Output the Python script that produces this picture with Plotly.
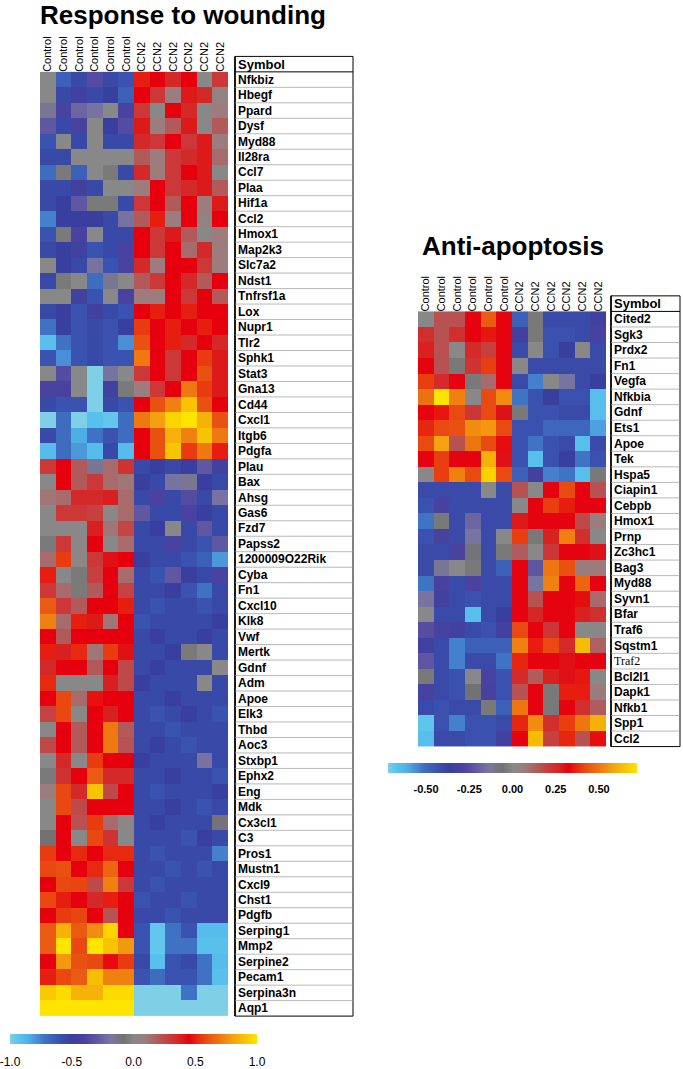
import plotly.graph_objects as go

W, H = 683, 1069

# ---------------- data ----------------
columns = ["Control"] * 6 + ["CCN2"] * 6

wound_genes = [
    "Nfkbiz", "Hbegf", "Ppard", "Dysf", "Myd88", "Il28ra", "Ccl7", "Plaa", "Hif1a", "Ccl2",
    "Hmox1", "Map2k3", "Slc7a2", "Ndst1", "Tnfrsf1a", "Lox", "Nupr1", "Tlr2", "Sphk1", "Stat3",
    "Gna13", "Cd44", "Cxcl1", "Itgb6", "Pdgfa", "Plau", "Bax", "Ahsg", "Gas6", "Fzd7",
    "Papss2", "1200009O22Rik", "Cyba", "Fn1", "Cxcl10", "Klk8", "Vwf", "Mertk", "Gdnf", "Adm",
    "Apoe", "Elk3", "Thbd", "Aoc3", "Stxbp1", "Ephx2", "Eng", "Mdk", "Cx3cl1", "C3",
    "Pros1", "Mustn1", "Cxcl9", "Chst1", "Pdgfb", "Serping1", "Mmp2", "Serpine2", "Pecam1",
    "Serpina3n", "Aqp1",
]

wound_values = [
    [0.00, -0.65, -0.55, -0.35, -0.55, -0.60, 0.50, 0.45, 0.35, 0.45, 0.00, 0.30],
    [0.00, -0.55, -0.45, -0.55, -0.50, -0.65, 0.45, 0.30, 0.10, 0.40, 0.35, 0.05],
    [-0.15, -0.40, -0.25, -0.20, 0.00, -0.40, 0.30, 0.00, 0.45, 0.35, 0.00, 0.10],
    [-0.30, -0.55, -0.40, 0.00, -0.50, -0.35, 0.40, 0.10, 0.20, 0.40, 0.00, 0.20],
    [-0.60, 0.00, -0.55, 0.00, -0.55, -0.55, 0.35, 0.30, 0.45, 0.30, 0.40, 0.10],
    [-0.55, -0.55, 0.00, 0.00, 0.00, 0.00, 0.20, 0.10, 0.30, 0.35, 0.40, 0.15],
    [-0.70, -0.05, -0.65, 0.00, -0.05, -0.55, 0.35, 0.10, 0.30, 0.45, 0.40, 0.00],
    [-0.55, -0.55, -0.45, -0.55, 0.00, 0.00, 0.10, 0.45, 0.30, 0.35, 0.40, 0.20],
    [-0.55, -0.50, -0.30, -0.05, -0.05, -0.55, 0.30, 0.45, 0.20, 0.45, 0.10, 0.40],
    [-0.75, -0.50, -0.50, -0.50, -0.55, -0.20, 0.20, 0.50, 0.10, 0.45, 0.05, 0.45],
    [-0.60, -0.05, -0.40, 0.00, -0.55, -0.55, 0.45, 0.30, 0.40, 0.20, 0.00, 0.10],
    [-0.55, -0.50, -0.45, -0.60, -0.55, -0.40, 0.45, 0.30, 0.45, 0.15, 0.35, 0.10],
    [0.00, -0.50, -0.55, -0.20, -0.60, -0.40, 0.35, 0.10, 0.45, 0.45, 0.30, 0.10],
    [-0.55, -0.05, 0.00, -0.70, -0.15, 0.00, 0.20, 0.30, 0.45, 0.35, 0.20, 0.45],
    [0.00, 0.00, -0.45, -0.60, 0.00, -0.40, 0.10, 0.10, 0.45, 0.30, 0.45, 0.20],
    [-0.55, -0.50, -0.60, -0.45, -0.55, -0.60, 0.45, 0.50, 0.45, 0.50, 0.45, 0.45],
    [-0.72, -0.50, -0.60, -0.55, -0.60, -0.50, 0.55, 0.45, 0.50, 0.45, 0.50, 0.45],
    [-0.92, -0.72, -0.60, -0.55, -0.60, -0.78, 0.60, 0.45, 0.50, 0.35, 0.45, 0.35],
    [-0.60, -0.78, -0.60, -0.55, -0.60, -0.60, 0.70, 0.45, 0.30, 0.45, 0.55, 0.40],
    [0.00, -0.35, 0.00, -1.00, -0.20, 0.00, 0.30, 0.45, 0.30, 0.45, 0.60, 0.40],
    [-0.40, -0.40, 0.00, -1.00, -0.45, -0.05, 0.10, 0.30, 0.45, 0.70, 0.55, 0.40],
    [-0.55, -0.60, -0.60, -1.00, -0.55, -0.60, 0.45, 0.60, 0.72, 0.90, 0.60, 0.45],
    [-1.00, -0.70, -1.00, -0.92, -0.95, -0.70, 0.70, 0.80, 0.95, 1.00, 0.85, 0.60],
    [-0.55, -0.70, -0.85, -0.72, -0.60, -0.70, 0.45, 0.60, 0.85, 0.72, 0.90, 0.70],
    [-0.90, -0.70, -0.80, -0.90, -0.55, -0.90, 0.45, 0.60, 0.90, 0.55, 0.70, 0.50],
    [0.30, 0.45, 0.20, -0.15, 0.15, 0.32, -0.55, -0.50, -0.55, -0.50, -0.30, -0.45],
    [0.00, 0.45, 0.20, 0.30, 0.15, 0.12, -0.50, -0.55, -0.20, -0.15, -0.50, -0.55],
    [0.12, 0.15, 0.35, 0.35, 0.38, 0.15, -0.55, -0.40, -0.55, -0.35, -0.55, -0.20],
    [0.00, 0.30, 0.30, 0.28, 0.02, 0.15, -0.30, -0.55, -0.55, -0.40, -0.50, -0.55],
    [0.00, 0.00, 0.00, 0.38, 0.12, 0.26, -0.55, -0.50, 0.00, -0.55, -0.30, -0.55],
    [-0.05, 0.30, 0.02, 0.45, 0.00, 0.15, -0.55, -0.55, -0.40, -0.55, -0.60, -0.30],
    [0.15, 0.55, 0.02, 0.30, 0.42, 0.45, -0.50, -0.55, -0.55, -0.60, -0.65, -0.80],
    [0.50, 0.00, -0.05, 0.28, 0.45, 0.15, -0.55, -0.60, -0.30, -0.50, -0.55, -0.40],
    [0.30, 0.15, -0.05, 0.20, 0.45, 0.27, -0.55, -0.55, -0.50, -0.60, -0.72, -0.55],
    [0.62, 0.30, 0.20, 0.45, 0.45, 0.50, -0.55, -0.60, -0.55, -0.55, -0.60, -0.55],
    [0.72, 0.15, 0.50, 0.40, 0.12, 0.45, -0.60, -0.55, -0.55, -0.55, -0.55, -0.50],
    [0.45, 0.20, 0.45, 0.45, 0.45, 0.45, -0.55, -0.50, -0.55, -0.55, -0.50, -0.55],
    [0.50, 0.38, 0.52, 0.12, 0.55, 0.42, -0.55, -0.55, -0.50, -0.05, 0.00, -0.55],
    [0.35, 0.45, 0.45, 0.20, 0.45, 0.25, -0.55, -0.50, -0.55, -0.55, -0.55, 0.00],
    [0.52, 0.00, 0.00, 0.00, 0.38, 0.25, -0.50, -0.55, -0.55, -0.55, 0.00, -0.55],
    [0.45, 0.58, 0.15, 0.48, 0.45, 0.45, -0.55, -0.55, -0.50, -0.55, -0.55, -0.55],
    [0.27, 0.58, 0.00, 0.45, 0.38, 0.45, -0.55, -0.60, -0.55, -0.50, -0.55, -0.60],
    [0.00, 0.45, 0.20, 0.45, 0.70, 0.20, -0.55, -0.55, -0.60, -0.55, -0.55, -0.55],
    [0.25, 0.45, 0.20, 0.45, 0.70, 0.22, -0.55, -0.50, -0.55, -0.60, -0.55, -0.55],
    [0.00, 0.35, 0.00, 0.55, 0.45, 0.45, -0.50, -0.55, -0.55, -0.55, -0.20, -0.55],
    [-0.05, 0.32, 0.45, 0.62, 0.35, 0.35, -0.55, -0.55, -0.50, -0.55, -0.55, -0.60],
    [0.10, 0.58, 0.35, 0.90, 0.25, 0.45, -0.55, -0.60, -0.55, -0.55, -0.55, -0.50],
    [0.00, 0.58, 0.25, 0.45, 0.45, 0.45, -0.55, -0.55, -0.50, -0.55, -0.60, -0.55],
    [0.00, 0.45, 0.23, 0.55, 0.15, 0.02, -0.55, -0.50, -0.55, -0.55, -0.55, -0.10],
    [-0.08, 0.45, 0.00, 0.58, 0.32, 0.00, -0.55, -0.55, -0.55, -0.60, -0.50, -0.55],
    [0.55, 0.45, 0.52, 0.45, 0.52, 0.52, -0.55, -0.60, -0.55, -0.55, -0.55, -0.75],
    [0.58, 0.60, 0.45, 0.52, 0.65, 0.45, -0.55, -0.55, -0.60, -0.55, -0.60, -0.55],
    [0.45, 0.58, 0.57, 0.25, 0.72, 0.30, -0.55, -0.60, -0.55, -0.55, -0.55, -0.55],
    [0.58, 0.50, 0.45, 0.35, 0.50, 0.45, -0.60, -0.55, -0.55, -0.60, -0.55, -0.55],
    [0.45, 0.55, 0.57, 0.45, 0.22, 0.45, -0.55, -0.55, -0.60, -0.55, -0.55, -0.55],
    [0.62, 0.85, 0.62, 0.75, 0.95, 0.45, -0.60, -0.95, -0.72, -0.60, -0.90, -0.90],
    [0.62, 1.00, 0.58, 1.00, 0.90, 0.78, -0.60, -0.95, -0.72, -0.72, -0.92, -0.92],
    [0.45, 0.78, 0.60, 0.58, 0.47, 0.55, -0.55, -0.92, -0.60, -0.55, -0.72, -0.90],
    [0.50, 0.58, 0.62, 0.88, 0.72, 0.72, -0.60, -0.70, -0.60, -0.60, -0.72, -0.92],
    [0.92, 0.97, 0.85, 0.85, 0.97, 0.97, -1.00, -1.00, -1.00, -0.72, -1.00, -1.00],
    [1.00, 1.00, 1.00, 1.00, 1.00, 1.00, -1.00, -1.00, -1.00, -1.00, -1.00, -1.00],
]

apop_genes = [
    "Cited2", "Sgk3", "Prdx2", "Fn1", "Vegfa", "Nfkbia", "Gdnf", "Ets1", "Apoe", "Tek",
    "Hspa5", "Ciapin1", "Cebpb", "Hmox1", "Prnp", "Zc3hc1", "Bag3", "Myd88", "Syvn1", "Bfar",
    "Traf6", "Sqstm1", "Traf2", "Bcl2l1", "Dapk1", "Nfkb1", "Spp1", "Ccl2",
]

apop_values = [
    [0.00, 0.16, 0.16, 0.32, 0.45, 0.32, -0.47, -0.04, -0.40, -0.40, -0.40, -0.32],
    [0.24, 0.16, 0.24, 0.32, 0.35, 0.32, -0.32, -0.04, -0.43, -0.43, -0.40, -0.30],
    [0.27, 0.16, 0.00, 0.25, 0.20, 0.32, -0.40, 0.00, -0.43, -0.36, 0.00, -0.40],
    [0.32, 0.16, -0.04, 0.23, 0.40, 0.32, 0.00, -0.40, -0.40, -0.40, -0.40, -0.40],
    [0.40, 0.25, 0.32, -0.04, 0.11, 0.32, -0.40, -0.54, 0.00, -0.14, -0.40, -0.36],
    [0.49, 0.72, 0.52, 0.00, 0.42, 0.54, -0.52, -0.43, -0.36, -0.43, -0.43, -0.66],
    [0.32, 0.35, 0.42, 0.22, 0.42, 0.30, -0.04, -0.43, -0.43, -0.40, -0.40, -0.66],
    [0.37, 0.42, 0.43, 0.54, 0.56, 0.42, -0.43, -0.43, -0.49, -0.49, -0.49, -0.59],
    [0.42, 0.58, 0.16, 0.50, 0.42, 0.34, -0.43, -0.52, -0.43, -0.40, -0.66, -0.40],
    [0.32, 0.40, 0.32, 0.32, 0.61, 0.30, -0.43, -0.66, -0.43, -0.36, -0.52, -0.43],
    [0.00, 0.40, 0.52, 0.42, 0.68, 0.42, -0.47, -0.32, -0.54, -0.52, -0.66, -0.04],
    [-0.40, -0.40, -0.40, -0.40, 0.00, -0.40, 0.16, 0.00, 0.32, 0.42, 0.32, 0.16],
    [-0.43, -0.30, -0.40, -0.40, -0.40, -0.40, 0.00, 0.32, 0.40, 0.36, 0.32, 0.32],
    [-0.52, -0.04, -0.40, -0.18, -0.40, -0.40, 0.29, 0.32, 0.32, 0.32, 0.18, 0.06],
    [-0.43, -0.30, -0.40, -0.14, -0.40, 0.00, 0.40, -0.04, 0.27, 0.52, 0.24, 0.00],
    [-0.40, -0.40, -0.29, -0.07, -0.40, -0.04, 0.14, 0.00, 0.22, 0.32, 0.32, 0.30],
    [-0.40, -0.11, 0.00, -0.04, -0.40, -0.47, 0.32, -0.22, 0.50, 0.43, 0.07, 0.07],
    [-0.52, -0.30, -0.40, -0.29, -0.40, -0.40, 0.32, -0.14, 0.52, 0.32, 0.47, 0.32],
    [-0.14, -0.32, -0.40, -0.43, -0.40, -0.40, 0.32, 0.16, 0.32, 0.32, 0.34, 0.11],
    [0.00, -0.40, -0.40, -0.66, -0.40, -0.36, 0.32, 0.26, 0.32, 0.32, 0.27, 0.24],
    [-0.25, -0.30, -0.32, -0.40, -0.43, -0.32, 0.42, 0.32, 0.22, 0.32, 0.00, 0.00],
    [-0.32, -0.40, -0.54, -0.47, -0.47, -0.47, 0.52, 0.36, 0.42, 0.25, 0.63, 0.13],
    [-0.22, -0.40, -0.54, -0.40, -0.40, -0.52, 0.37, 0.32, 0.32, 0.30, 0.32, 0.32],
    [-0.04, -0.40, -0.43, 0.00, -0.29, -0.43, 0.25, 0.14, 0.27, 0.30, 0.35, 0.00],
    [-0.30, -0.40, -0.43, -0.06, -0.30, -0.43, 0.16, 0.32, -0.04, 0.36, 0.36, 0.07],
    [-0.40, -0.43, -0.40, -0.40, -0.04, -0.47, 0.50, 0.32, -0.04, 0.32, 0.24, 0.14],
    [-0.68, -0.43, -0.54, -0.43, -0.43, -0.40, 0.37, 0.54, 0.24, 0.40, 0.50, 0.61],
    [-0.66, -0.40, -0.40, -0.43, -0.43, -0.32, 0.32, 0.63, 0.20, 0.37, 0.16, 0.34],
]

wound_bar_ticks = [-1.0, -0.5, 0.0, 0.5, 1.0]
wound_bar_labels = ["-1.0", "-0.5", "0.0", "0.5", "1.0"]
apop_bar_ticks = [-0.5, -0.25, 0.0, 0.25, 0.5]
apop_bar_labels = ["-0.50", "-0.25", "0.00", "0.25", "0.50"]

# ---------------- style ----------------
colorscale = [
    [0.00, "#7fd0e6"], [0.03, "#5cc4ee"], [0.07, "#4fb4ea"], [0.11, "#4a8ed6"],
    [0.14, "#3f72c2"], [0.20, "#3a52b0"], [0.25, "#383f9f"], [0.30, "#4a42a0"],
    [0.34, "#5c52a2"], [0.41, "#7a78a0"], [0.46, "#727272"], [0.50, "#888888"],
    [0.55, "#9c7c7c"], [0.60, "#b25a5a"], [0.65, "#cc3838"], [0.70, "#dc1a1a"],
    [0.725, "#e6000e"], [0.775, "#e83c10"], [0.81, "#ea5a12"], [0.86, "#f08010"],
    [0.90, "#f4a010"], [0.95, "#f8c400"], [1.00, "#ffe400"],
]
FONT = "Liberation Sans, Arial, Helvetica, sans-serif"


def px(x):
    return x / W


def py(y):
    return 1 - y / H


def y_geom(top, bottom, n, pad=0.08):
    row = (bottom - top) / n
    return dict(domain=[py(bottom + pad * row), py(top - (1 + pad) * row)],
                range=[n - 0.5 + pad, -1.5 - pad])


col_idx = list(range(len(columns)))

fig = go.Figure()

fig.add_trace(go.Heatmap(
    z=wound_values, x=col_idx, y=wound_genes, xaxis="x", yaxis="y",
    colorscale=colorscale, zmin=-1, zmax=1, xgap=0, ygap=0,
    colorbar=dict(orientation="h", x=px(133.5), xanchor="center", y=py(1036), yanchor="top",
                  len=247, lenmode="pixels", thickness=10, thicknessmode="pixels",
                  xpad=0, ypad=0, outlinewidth=0, tickmode="array",
                  tickvals=wound_bar_ticks, ticktext=wound_bar_labels,
                  ticklabeloverflow="allow",
                  ticks="outside", ticklen=8, tickcolor="rgba(0,0,0,0)",
                  tickfont=dict(family=FONT, size=12, color="black")),
))

fig.add_trace(go.Heatmap(
    z=apop_values, x=col_idx, y=apop_genes, xaxis="x2", yaxis="y2",
    colorscale=colorscale, zmin=-0.72, zmax=0.72, xgap=0, ygap=0,
    colorbar=dict(orientation="h", x=px(512.5), xanchor="center", y=py(764), yanchor="top",
                  len=249, lenmode="pixels", thickness=10, thicknessmode="pixels",
                  xpad=0, ypad=0, outlinewidth=0, tickmode="array",
                  tickvals=apop_bar_ticks, ticktext=apop_bar_labels,
                  ticklabeloverflow="allow",
                  ticks="outside", ticklen=7, tickcolor="rgba(0,0,0,0)",
                  tickfont=dict(family=FONT, size=11, color="black", weight="bold")),
))

xcommon = dict(range=[-0.5, len(columns) - 0.5], side="top", anchor="free",
               tickmode="array", tickvals=col_idx, ticktext=columns, tickangle=-90,
               tickfont=dict(family=FONT, size=11, color="black"),
               showgrid=False, zeroline=False, showline=False, ticks="")
ycommon = dict(showticklabels=False, showgrid=False, zeroline=False, showline=False, ticks="")

fig.update_layout(
    width=W, height=H, margin=dict(l=0, r=0, t=0, b=0),
    paper_bgcolor="white", plot_bgcolor="rgba(0,0,0,0)", showlegend=False,
    xaxis=dict(domain=[px(40), px(228)], position=py(72), **xcommon),
    yaxis=dict(anchor="x", **y_geom(72, 1018, len(wound_genes)), **ycommon),
    xaxis2=dict(domain=[px(418), px(606)], position=py(312), **xcommon),
    yaxis2=dict(anchor="x2", **y_geom(312, 748, len(apop_genes)), **ycommon),
)


def add_table(genes, yref, x0, x1, text_x):
    n = len(genes)
    fig.add_shape(type="rect", xref="paper", yref=yref, x0=px(x0), x1=px(x1),
                  y0=-1.5, y1=n - 0.5, line=dict(color="black", width=1))
    fig.add_shape(type="line", xref="paper", yref=yref, x0=px(x0), x1=px(x0),
                  y0=-1.5, y1=n - 0.5, line=dict(color="black", width=1.6))
    fig.add_shape(type="line", xref="paper", yref=yref, x0=px(x0), x1=px(x1),
                  y0=-0.5, y1=-0.5, line=dict(color="black", width=1))
    for i in range(n - 1):
        fig.add_shape(type="line", xref="paper", yref=yref, x0=px(x0), x1=px(x1),
                      y0=i + 0.5, y1=i + 0.5, line=dict(color="#9a9a9a", width=0.7))
    fig.add_annotation(x=px(text_x), y=-1, xref="paper", yref=yref, xanchor="left",
                       yanchor="middle", showarrow=False, text="<b>Symbol</b>",
                       font=dict(family=FONT, size=13, color="black"))
    for i, g in enumerate(genes):
        if g == "Traf2":
            txt, fnt = g, dict(family="Liberation Serif, Times New Roman, serif", size=12, color="black")
        else:
            txt, fnt = "<b>%s</b>" % g, dict(family=FONT, size=12, color="black")
        fig.add_annotation(x=px(text_x), y=i, xref="paper", yref=yref, xanchor="left",
                           yanchor="middle", showarrow=False, text=txt, font=fnt)


add_table(wound_genes, "y", 235, 353, 236)
add_table(apop_genes, "y2", 611, 680, 612)

fig.add_annotation(x=px(38), y=py(15), xref="paper", yref="paper", xanchor="left",
                   yanchor="middle", showarrow=False, text="<b>Response to wounding</b>",
                   font=dict(family=FONT, size=26, color="black"))
fig.add_annotation(x=px(420), y=py(246), xref="paper", yref="paper", xanchor="left",
                   yanchor="middle", showarrow=False, text="<b>Anti-apoptosis</b>",
                   font=dict(family=FONT, size=26, color="black"))

fig.write_html("out.html",
               config={"displayModeBar": False},
               post_script="document.body.style.margin='0';document.body.style.padding='0';")
